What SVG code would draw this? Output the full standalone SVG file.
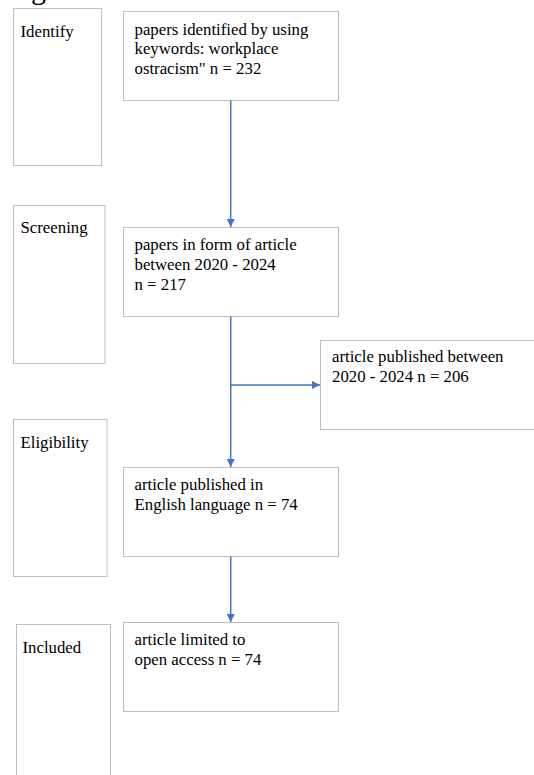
<svg xmlns="http://www.w3.org/2000/svg" width="534" height="775" viewBox="0 0 534 775">
<style>
.box{fill:#ffffff;stroke:#bfbfbf;stroke-width:1}
.c{stroke:#4472c4;stroke-width:1.5;fill:none}
</style>
<defs>
<marker id="ah" viewBox="0 0 10 10" refX="10" refY="5" markerWidth="8" markerHeight="8" orient="auto" markerUnits="userSpaceOnUse">
<path d="M0,0 L10,5 L0,10 z" fill="#4472c4"/>
</marker>
</defs>
<rect width="534" height="775" fill="#ffffff"/>
<text x="31" y="-1" font-family="Liberation Serif" font-size="30">g</text>
<g id="stage-identify">
<rect class="box" x="13.5" y="8.5" width="88" height="157"/>
<text x="20.5" y="36.5" font-family="Liberation Serif" font-size="16.8">Identify</text>
</g>
<g id="stage-screening">
<rect class="box" x="13.5" y="205.5" width="91.5" height="158"/>
<text x="20.5" y="233" font-family="Liberation Serif" font-size="16.8">Screening</text>
</g>
<g id="stage-eligibility">
<rect class="box" x="13.5" y="419.5" width="93.5" height="157"/>
<text x="20.5" y="448" font-family="Liberation Serif" font-size="16.8">Eligibility</text>
</g>
<g id="stage-included">
<rect class="box" x="16.5" y="624.5" width="94" height="160"/>
<text x="22.5" y="652.5" font-family="Liberation Serif" font-size="16.8">Included</text>
</g>
<g id="n1">
<rect class="box" x="123.5" y="11.5" width="215" height="89"/>
<text x="134.5" y="34.5" font-family="Liberation Serif" font-size="16.8">papers identified by using</text>
<text x="134.5" y="53.5" font-family="Liberation Serif" font-size="16.8">keywords: workplace</text>
<text x="134.5" y="73.5" font-family="Liberation Serif" font-size="16.8">ostracism" n = 232</text>
</g>
<g id="n2">
<rect class="box" x="123.5" y="227.5" width="215" height="89"/>
<text x="134.5" y="249.5" font-family="Liberation Serif" font-size="16.8">papers in form of article</text>
<text x="134.5" y="269.5" font-family="Liberation Serif" font-size="16.8">between 2020 - 2024</text>
<text x="134.5" y="290" font-family="Liberation Serif" font-size="16.8">n = 217</text>
</g>
<g id="n3">
<rect class="box" x="320.5" y="340.5" width="220" height="89"/>
<text x="332" y="362" font-family="Liberation Serif" font-size="16.8">article published between</text>
<text x="332" y="381.5" font-family="Liberation Serif" font-size="16.8">2020 - 2024 n = 206</text>
</g>
<g id="n4">
<rect class="box" x="123.5" y="467.5" width="215" height="89"/>
<text x="134.5" y="490" font-family="Liberation Serif" font-size="16.8">article published in</text>
<text x="134.5" y="509.5" font-family="Liberation Serif" font-size="16.8">English language n = 74</text>
</g>
<g id="n5">
<rect class="box" x="123.5" y="622.5" width="215" height="89"/>
<text x="134.5" y="644.5" font-family="Liberation Serif" font-size="16.8">article limited to</text>
<text x="134.5" y="664.5" font-family="Liberation Serif" font-size="16.8">open access n = 74</text>
</g>
<g id="connectors">
<line class="c" x1="230.7" y1="100.5" x2="230.7" y2="227" marker-end="url(#ah)"/>
<line class="c" x1="230.7" y1="316.5" x2="230.7" y2="467" marker-end="url(#ah)"/>
<line class="c" x1="230.7" y1="385" x2="320" y2="385" marker-end="url(#ah)"/>
<line class="c" x1="230.7" y1="556.5" x2="230.7" y2="622" marker-end="url(#ah)"/>
</g>
</svg>
